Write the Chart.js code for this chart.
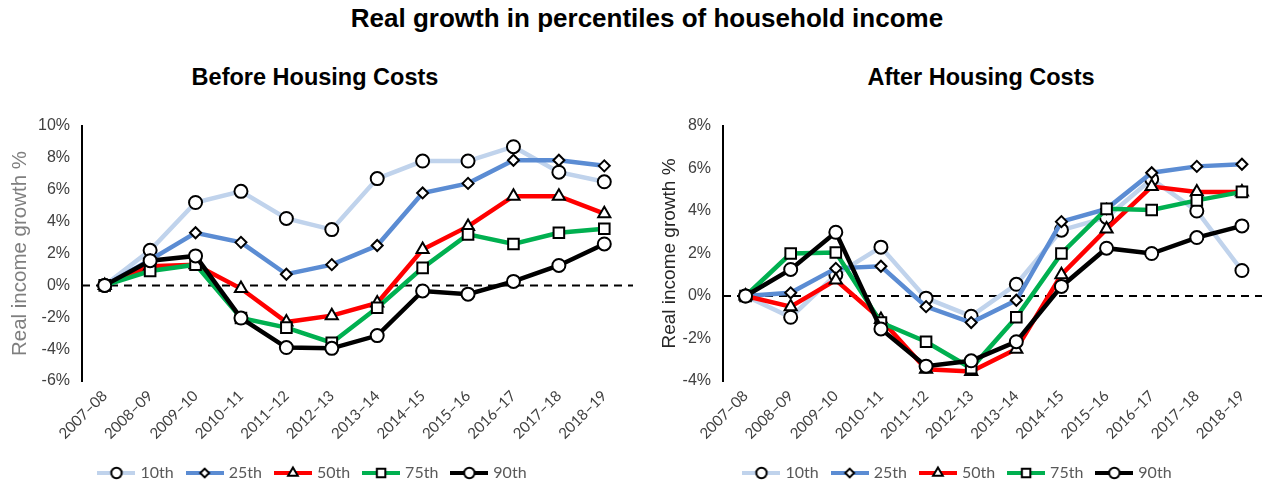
<!DOCTYPE html>
<html>
<head>
<meta charset="utf-8">
<script src="https://cdn.jsdelivr.net/npm/chart.js@4.4.1/dist/chart.umd.min.js"></script>
<style>
  html, body { margin: 0; padding: 0; background: #fff; overflow: hidden; width: 1262px; height: 487px; }
  #title { position: absolute; left: 16px; top: 3px; width: 1262px; text-align: center;
           font: bold 26px "Liberation Sans", Arial, sans-serif; color: #000; }
  .sub { position: absolute; top: 64px; width: 400px; text-align: center;
         font: bold 23.5px "Liberation Sans", Arial, sans-serif; color: #000; }
  .box { position: absolute; top: 95px; height: 396px; }
</style>
</head>
<body>
<div id="title">Real growth in percentiles of household income</div>
<div class="sub" style="left:115px">Before Housing Costs</div>
<div class="sub" style="left:781px">After Housing Costs</div>
<div class="box" style="left:0;width:640px"><canvas id="bhc"></canvas></div>
<div class="box" style="left:650px;width:624px"><canvas id="ahc"></canvas></div>

<script>
const years = ["2007–08", "2008–09", "2009–10", "2010–11", "2011–12", "2012–13",
               "2013–14", "2014–15", "2015–16", "2016–17", "2017–18", "2018–19"];
const percentiles = ["10th", "25th", "50th", "75th", "90th"];

// before housing costs
const bhc10 = [0, 2.2, 5.2, 5.9, 4.2, 3.5, 6.7, 7.8, 7.8, 8.7, 7.1, 6.5];
const bhc25 = [0, 1.6, 3.3, 2.7, 0.7, 1.3, 2.5, 5.8, 6.4, 7.85, 7.85, 7.5];
const bhc50 = [0, 1.2, 1.3, -0.2, -2.3, -1.9, -1.1, 2.25, 3.7, 5.6, 5.6, 4.5];
const bhc75 = [0, 0.9, 1.3, -2.05, -2.65, -3.6, -1.4, 1.1, 3.2, 2.6, 3.3, 3.55];
const bhc90 = [0, 1.55, 1.85, -2.05, -3.9, -3.95, -3.15, -0.35, -0.55, 0.25, 1.25, 2.6];

// after housing costs
const ahc10 = [0, -1.0, 1.0, 2.3, -0.1, -0.95, 0.55, 3.1, 3.7, 5.5, 4.0, 1.2];
const ahc25 = [0, 0.15, 1.3, 1.4, -0.5, -1.25, -0.2, 3.5, 4.1, 5.8, 6.1, 6.2];
const ahc50 = [0, -0.5, 0.75, -1.1, -3.45, -3.55, -2.5, 1.0, 3.15, 5.15, 4.9, 4.9];
const ahc75 = [0, 2.0, 2.05, -1.25, -2.15, -3.4, -1.0, 2.0, 4.1, 4.05, 4.5, 4.9];
const ahc90 = [0, 1.25, 3.0, -1.55, -3.3, -3.05, -2.15, 0.45, 2.25, 2.0, 2.75, 3.3];

const lineColors = ["#C0D3EC", "#5B8CD3", "#FF0000", "#00B050", "#000000"];
const markers = ["circle", "rectRot", "triangle", "rect", "circle"];
const markerSizes = [6.5, 5.5, 7, 7.5, 6.5];

// little line + marker pictures for the legend
function makeSwatch(color, style, r) {
    const c = document.createElement("canvas");
    c.width = 38;
    c.height = 16;
    const ctx = c.getContext("2d");
    ctx.strokeStyle = color;
    ctx.lineWidth = 4;
    ctx.beginPath();
    ctx.moveTo(0, 8);
    ctx.lineTo(38, 8);
    ctx.stroke();
    ctx.fillStyle = "#fff";
    ctx.strokeStyle = "#000";
    ctx.lineWidth = 2;
    Chart.helpers.drawPoint(ctx, { pointStyle: style, radius: r * 0.8, borderWidth: 2, rotation: 0 }, 19, 8);
    return c;
}
const swatches = percentiles.map((p, i) => makeSwatch(lineColors[i], markers[i], markerSizes[i]));

// dashed line at 0%
const zeroLine = {
    id: "zeroLine",
    beforeDatasetsDraw(chart) {
        const { ctx, chartArea, scales } = chart;
        const py = scales.y.getPixelForValue(0);
        ctx.save();
        ctx.setLineDash([8, 6]);
        ctx.lineWidth = 2;
        ctx.strokeStyle = "#000";
        ctx.beginPath();
        ctx.moveTo(chartArea.left, py);
        ctx.lineTo(chartArea.right + 6, py);
        ctx.stroke();
        ctx.restore();
    }
};

function makeChart(id, series, yMin, yMax, titleColor, titleSize, yWidth, padRight) {
    const datasets = series.map((values, i) => ({
        label: percentiles[i],
        data: values,
        order: series.length - i,
        borderColor: lineColors[i],
        borderWidth: 4.5,
        tension: 0,
        pointStyle: markers[i],
        pointRadius: markerSizes[i],
        pointHoverRadius: markerSizes[i],
        pointBackgroundColor: "#fff",
        pointBorderColor: "#000",
        pointBorderWidth: 2
    }));

    return new Chart(document.getElementById(id), {
        type: "line",
        data: { labels: years, datasets: datasets },
        plugins: [zeroLine],
        options: {
            responsive: true,
            maintainAspectRatio: false,
            animation: false,
            layout: { padding: { top: 31, right: padRight, bottom: 0, left: 0 } },
            scales: {
                x: {
                    offset: true,
                    grid: { display: false, drawTicks: false },
                    border: { display: false },
                    ticks: {
                        color: "#404040",
                        font: { family: "Lato", size: 15 },
                        minRotation: 45,
                        maxRotation: 45,
                        autoSkip: false,
                        padding: 6
                    },
                    afterFit(scale) {
                        scale.height = 69;
                    }
                },
                y: {
                    min: yMin,
                    max: yMax,
                    grid: { display: false, drawTicks: false },
                    border: { color: "#000", width: 2 },
                    ticks: {
                        stepSize: 2,
                        color: "#404040",
                        font: { family: "Liberation Sans", size: 16 },
                        padding: 12,
                        callback: v => v + "%"
                    },
                    title: {
                        display: true,
                        text: "Real income growth %",
                        color: titleColor,
                        font: { family: "Liberation Sans", size: titleSize },
                        padding: { top: 8, bottom: 0 }
                    },
                    afterFit(scale) {
                        scale.width = yWidth;
                    }
                }
            },
            plugins: {
                tooltip: { enabled: false },
                legend: {
                    position: "bottom",
                    reverse: true,
                    labels: {
                        usePointStyle: true,
                        pointStyleWidth: 32,
                        color: "#595959",
                        font: { family: "Lato", size: 16 },
                        padding: 15,
                        generateLabels(chart) {
                            const items = Chart.defaults.plugins.legend.labels.generateLabels(chart);
                            items.forEach(it => { it.pointStyle = swatches[it.datasetIndex]; });
                            return items;
                        }
                    }
                }
            }
        }
    });
}

makeChart("bhc", [bhc10, bhc25, bhc50, bhc75, bhc90], -6, 10, "#7F7F7F", 20.5, 82, 13);
makeChart("ahc", [ahc10, ahc25, ahc50, ahc75, ahc90], -4, 8, "#262626", 19, 73, 7);
</script>
</body>
</html>
